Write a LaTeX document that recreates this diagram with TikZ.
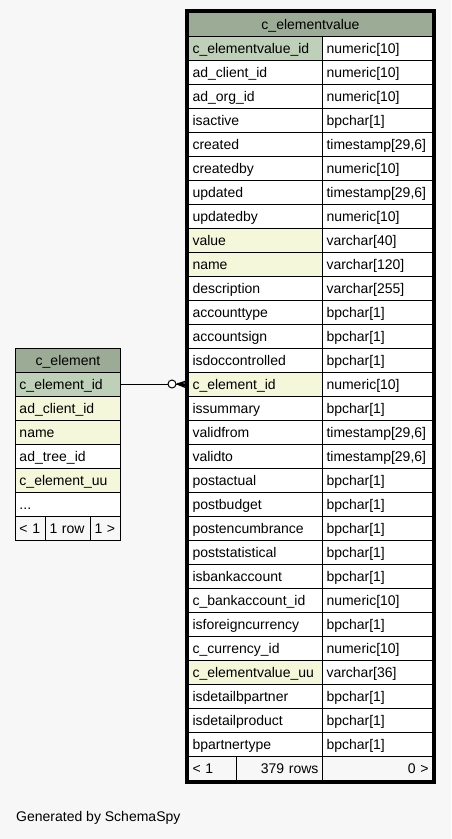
\documentclass[tikz,border=0pt]{standalone}
\usepackage{fontspec}
\setmainfont{Liberation Sans}
\usetikzlibrary{fit}
\definecolor{bgc}{HTML}{F7F7F7}
\definecolor{hdr}{HTML}{9BAB96}
\definecolor{pkc}{HTML}{BED1B8}
\definecolor{idx}{HTML}{F4F7DA}
\definecolor{ftc}{HTML}{F7F7F7}
\tikzset{
  cellbase/.style={draw=black, line width=1pt, anchor=north west, minimum height=24pt,
    inner ysep=0pt, inner xsep=4pt, text height=11.5pt, text depth=1.5pt,
    font=\fontsize{14}{16}\selectfont},
  namecell/.style={cellbase, text width=126pt, align=left},
  typecell/.style={cellbase, text width=102pt, align=left, fill=white},
  lcell/.style={cellbase, text width=97pt, align=left},
}
\newcommand\evrow[4]{%
  \node[namecell, fill=#4] (evn#1) at (188,{12+24*#1}) {#2};
  \node[typecell] (evt#1) at (322,{12+24*#1}) {#3};
}
\newcommand\elrow[3]{%
  \node[lcell, fill=#3] (el#1) at (15,{348+24*#1}) {#2};
}
\begin{document}
\begin{tikzpicture}[x=1pt,y=-1pt]
\fill[bgc] (0,0) rectangle (451,839);
\useasboundingbox (0,0) rectangle (451,839);

% right table
\node[cellbase, text width=236pt, align=center, fill=hdr] (evh) at (188,12) {c\_elementvalue};
\evrow{1}{c\_elementvalue\_id}{numeric[10]}{pkc}
\evrow{2}{ad\_client\_id}{numeric[10]}{white}
\evrow{3}{ad\_org\_id}{numeric[10]}{white}
\evrow{4}{isactive}{bpchar[1]}{white}
\evrow{5}{created}{timestamp[29,6]}{white}
\evrow{6}{createdby}{numeric[10]}{white}
\evrow{7}{updated}{timestamp[29,6]}{white}
\evrow{8}{updatedby}{numeric[10]}{white}
\evrow{9}{value}{varchar[40]}{idx}
\evrow{10}{name}{varchar[120]}{idx}
\evrow{11}{description}{varchar[255]}{white}
\evrow{12}{accounttype}{bpchar[1]}{white}
\evrow{13}{accountsign}{bpchar[1]}{white}
\evrow{14}{isdoccontrolled}{bpchar[1]}{white}
\evrow{15}{c\_element\_id}{numeric[10]}{idx}
\evrow{16}{issummary}{bpchar[1]}{white}
\evrow{17}{validfrom}{timestamp[29,6]}{white}
\evrow{18}{validto}{timestamp[29,6]}{white}
\evrow{19}{postactual}{bpchar[1]}{white}
\evrow{20}{postbudget}{bpchar[1]}{white}
\evrow{21}{postencumbrance}{bpchar[1]}{white}
\evrow{22}{poststatistical}{bpchar[1]}{white}
\evrow{23}{isbankaccount}{bpchar[1]}{white}
\evrow{24}{c\_bankaccount\_id}{numeric[10]}{white}
\evrow{25}{isforeigncurrency}{bpchar[1]}{white}
\evrow{26}{c\_currency\_id}{numeric[10]}{white}
\evrow{27}{c\_elementvalue\_uu}{varchar[36]}{idx}
\evrow{28}{isdetailbpartner}{bpchar[1]}{white}
\evrow{29}{isdetailproduct}{bpchar[1]}{white}
\evrow{30}{bpartnertype}{bpchar[1]}{white}
\node[cellbase, text width=40pt, align=left, fill=ftc] (evf1) at (188,756) {< 1};
\node[cellbase, text width=78pt, align=right, fill=ftc] (evf2) at (236,756) {379 rows};
\node[cellbase, text width=102pt, align=right, fill=ftc] (evf3) at (322,756) {0 >};
\node[draw=black, line width=3pt, inner sep=1.5pt, fit=(evh)(evf3)] (evbox) {};

% left table
\node[lcell, align=center, fill=hdr] (elh) at (15,348) {c\_element};
\elrow{1}{c\_element\_id}{pkc}
\elrow{2}{ad\_client\_id}{idx}
\elrow{3}{name}{idx}
\elrow{4}{ad\_tree\_id}{white}
\elrow{5}{c\_element\_uu}{idx}
\elrow{6}{...}{white}
\node[cellbase, text width=22pt, align=left, fill=ftc] (elf1) at (15,516) {< 1};
\node[cellbase, text width=37pt, align=left, fill=ftc] (elf2) at (45,516) {1 row};
\node[cellbase, text width=22pt, align=left, fill=ftc] (elf3) at (90,516) {1 >};

% connector
\coordinate (cf) at (177,384);
\draw[line width=1pt] (el1.east) -- (evn15.west);
\draw[line width=1.2pt] (cf) -- ([yshift=4pt]evn15.west);
\draw[line width=1.2pt] (cf) -- ([yshift=-4pt]evn15.west);
\draw[line width=1.2pt] (cf) -- ([yshift=2pt]evn15.west);
\draw[line width=1.2pt] (cf) -- ([yshift=-2pt]evn15.west);
\node[circle, draw=black, fill=white, line width=1pt, minimum size=8pt, inner sep=0pt] (od) at (172,384) {};

\node[anchor=west, inner sep=0pt, font=\fontsize{14}{16}\selectfont] (gen) at (16,818) {Generated by SchemaSpy};
\end{tikzpicture}
\end{document}
